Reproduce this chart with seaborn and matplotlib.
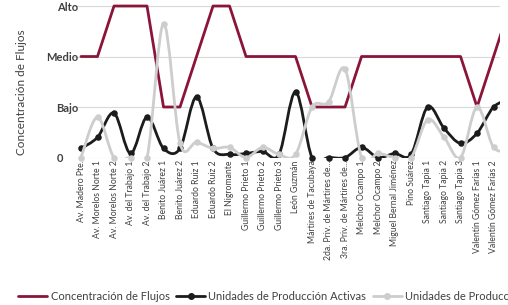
import numpy as np
import pandas as pd
import matplotlib
matplotlib.use("Agg")
import matplotlib.pyplot as plt
from matplotlib.path import Path
from matplotlib.patches import PathPatch
from matplotlib.lines import Line2D
from matplotlib.transforms import ScaledTranslation
import seaborn as sns

# calles (la ultima queda fuera del recorte de la imagen)
calles = ["Av. Madero Pte.", "Av. Morelos Norte 1", "Av. Morelos Norte 2",
          "Av. del Trabajo 1", "Av. del Trabajo 2", "Benito Juárez 1",
          "Benito Juárez 2", "Eduardo Ruiz 1", "Eduardo Ruiz 2",
          "El Nigromante", "Guillermo Prieto 1", "Guillermo Prieto 2",
          "Guillermo Prieto 3", "León Guzmán", "Mártires de Tacubaya",
          "2da. Priv. de Mártires de...", "3ra. Priv. de Mártires de...",
          "Melchor Ocampo 1", "Melchor Ocampo 2", "Miguel Bernal Jiménez",
          "Pino Suárez", "Santiago Tapia 1", "Santiago Tapia 2",
          "Santiago Tapia 3", "Valentín Gómez Farías 1",
          "Valentín Gómez Farías 2", ""]

# 0 = nada, 1 = Bajo, 2 = Medio, 3 = Alto
flujos = [2, 2, 3, 3, 3, 1, 1, 2, 3, 3, 2, 2, 2, 2, 1, 1, 1, 2, 2, 2, 2, 2,
          2, 2, 1, 2, 3]
activas = [0.18, 0.4, 0.88, 0.08, 0.8, 0.18, 0.18, 1.2, 0.18, 0.06, 0.08,
           0.12, 0.06, 1.3, 0.0, 0.0, 0.0, 0.2, 0.0, 0.08, 0.06, 1.0, 0.58,
           0.28, 0.48, 1.0, 1.15]
inactivas = [0.0, 0.8, 0.0, 0.0, 0.0, 2.65, 0.28, 0.3, 0.18, 0.2, 0.0, 0.2,
             0.06, 0.06, 1.0, 1.1, 1.75, 0.0, 0.08, 0.0, 0.0, 0.75, 0.4, 0.0,
             1.0, 0.2, 0.15]

niveles = ["0", "Bajo", "Medio", "Alto"]
series = ["Concentración de Flujos", "Unidades de Producción Activas",
          "Unidades de Producción Inactivas"]

ROJO = "#8a1538"
NEGRO = "#1c1c1c"
GRIS = "#cdcdcd"

df = pd.DataFrame({"pos": np.arange(len(calles)), "calle": calles,
                   "flujos": flujos, "activas": activas,
                   "inactivas": inactivas})
visibles = df[df["calle"] != ""]

sns.set_style("white")
plt.rcParams["font.family"] = ["Lato", "DejaVu Sans"]


def curva(x, y):
    # linea suavizada tipo excel (bezier por catmull-rom)
    p = np.column_stack([x, y]).astype(float)
    n = len(p)
    verts = [p[0]]
    codes = [Path.MOVETO]
    for i in range(n - 1):
        a = p[max(i - 1, 0)]
        b = p[i]
        c = p[i + 1]
        d = p[min(i + 2, n - 1)]
        verts += [b + (c - a) / 6, c - (d - b) / 6, c]
        codes += [Path.CURVE4] * 3
    return Path(verts, codes)


fig = plt.figure(figsize=(5.08, 3.05), dpi=100)
ax = fig.add_axes([72.75 / 508, 147.5 / 305, 427.25 / 508, 154 / 305])

for y in range(4):
    ax.axhline(y, color="#d9d9d9", linewidth=0.8, zorder=0)

sns.lineplot(data=df, x="pos", y="flujos", color=ROJO, linewidth=2.0,
             ax=ax, zorder=2)

ax.add_patch(PathPatch(curva(df["pos"], df["activas"]), facecolor="none",
                       edgecolor=NEGRO, linewidth=2.0, zorder=3))
sns.scatterplot(data=visibles, x="pos", y="activas", color=NEGRO, s=22,
                edgecolor=NEGRO, linewidth=0, ax=ax, zorder=4, clip_on=False)

ax.add_patch(PathPatch(curva(df["pos"], df["inactivas"]), facecolor="none",
                       edgecolor=GRIS, linewidth=2.0, zorder=5))
sns.scatterplot(data=visibles, x="pos", y="inactivas", color=GRIS, s=22,
                edgecolor=GRIS, linewidth=0, ax=ax, zorder=6, clip_on=False)

ax.set_xlim(-0.5, 25.39)
ax.set_ylim(0, 3.05)
ax.set_xticks(visibles["pos"])
ax.set_xticklabels(visibles["calle"], rotation=90, fontsize=6.2,
                   color="#404040")
ax.set_yticks(range(4))
ax.set_yticklabels(niveles, fontsize=8, fontweight="bold", color="#404040")
ax.tick_params(axis="both", length=0, pad=2)
ax.tick_params(axis="y", pad=-4)
lbl0 = ax.get_yticklabels()[0]
lbl0.set_transform(lbl0.get_transform() +
                   ScaledTranslation(-15 / 100, 0, fig.dpi_scale_trans))
ax.set_xlabel("")
ax.set_ylabel("Concentración de Flujos", fontsize=8.5, color="#404040")
ax.yaxis.set_label_coords(-0.107, 0.425)
sns.despine(ax=ax, left=True, bottom=True)

handles = [Line2D([], [], color=ROJO, linewidth=2.0),
           Line2D([], [], color=NEGRO, linewidth=2.0, marker="o",
                  markersize=4),
           Line2D([], [], color=GRIS, linewidth=2.0, marker="o",
                  markersize=4)]
fig.legend(handles, series, loc="center left",
           bbox_to_anchor=(14 / 508, 9 / 305), ncol=3, frameon=False,
           fontsize=8, handlelength=2.6, handletextpad=0.3,
           columnspacing=0.6, labelcolor="#404040", borderaxespad=0)

fig.savefig("out.png", dpi=100)
